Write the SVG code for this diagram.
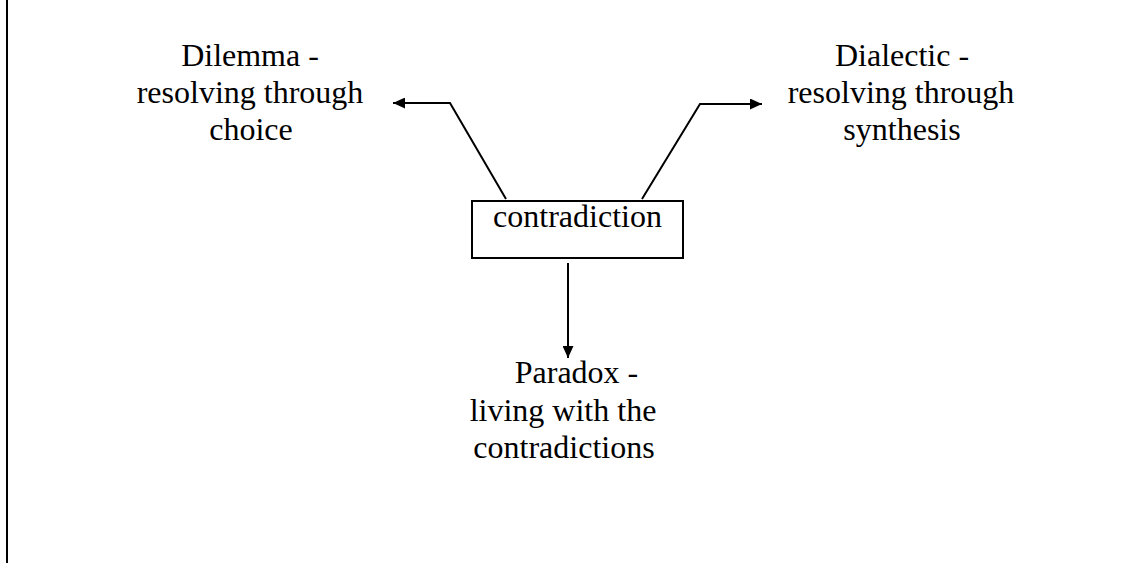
<svg xmlns="http://www.w3.org/2000/svg" width="1131" height="563" viewBox="0 0 1131 563">
  <style>
    .lbl { font-family: "Liberation Serif", "Times New Roman", serif; font-size: 32px; fill: #000; }
    .link { fill: none; stroke: #000; stroke-width: 2; }
    .box { fill: #fff; stroke: #000; stroke-width: 2; }
  </style>
  <defs>
    <marker id="arrow" viewBox="0 0 12 11" refX="12" refY="5.5" markerWidth="12" markerHeight="11" markerUnits="userSpaceOnUse" orient="auto">
      <path d="M0,0 L12,5.5 L0,11 Z" fill="#000"/>
    </marker>
  </defs>
  <rect width="1131" height="563" fill="#fff"/>
  <!-- page margin rule -->
  <line x1="7" y1="0" x2="7" y2="563" stroke="#000" stroke-width="2"/>

  <g id="connectors">
    <polyline class="link" points="506,199 450,103 393,103" marker-end="url(#arrow)"/>
    <polyline class="link" points="642,199 700,104 762,104" marker-end="url(#arrow)"/>
    <line class="link" x1="568" y1="263" x2="568" y2="358" marker-end="url(#arrow)"/>
  </g>

  <g id="contradiction">
    <rect class="box" x="472" y="201" width="211" height="57"/>
    <text class="lbl" x="577.5" y="227" text-anchor="middle">contradiction</text>
  </g>

  <g id="dilemma">
    <text class="lbl" x="250" y="66" text-anchor="middle">Dilemma -</text>
    <text class="lbl" x="250" y="103" text-anchor="middle">resolving through</text>
    <text class="lbl" x="251" y="140" text-anchor="middle">choice</text>
  </g>

  <g id="dialectic">
    <text class="lbl" x="902" y="66" text-anchor="middle">Dialectic -</text>
    <text class="lbl" x="901" y="103" text-anchor="middle">resolving through</text>
    <text class="lbl" x="902" y="140" text-anchor="middle">synthesis</text>
  </g>

  <g id="paradox">
    <text class="lbl" x="576.5" y="383" text-anchor="middle">Paradox -</text>
    <text class="lbl" x="563" y="421" text-anchor="middle">living with the</text>
    <text class="lbl" x="564" y="458" text-anchor="middle">contradictions</text>
  </g>
</svg>
